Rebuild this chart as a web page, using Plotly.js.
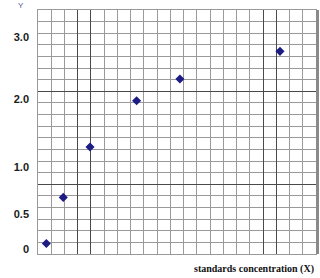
<!DOCTYPE html>
<html><head><meta charset="utf-8">
<script src="https://cdn.plot.ly/plotly-3.0.1.min.js"></script>
<style>html,body{margin:0;padding:0;background:#fff}#chart{width:320px;height:278px}</style>
</head><body><div id="chart"></div>
<script>
// Values, in grid-square units (graph paper 21 x 21)
const pointX = [0.63, 1.91, 3.93, 7.45, 10.72, 18.28];
const pointY = [0.91, 4.87, 9.21, 13.19, 15.06, 17.44];
const yTickPos = [0.45, 3.4, 7.5, 13.3, 18.7];
const yTickText = ['0', '0.5', '1.0', '2.0', '3.0'];
const darkX = [3, 4, 17, 18];
const darkY = [6, 14];
const gridMax = 21;

const trace = {
  x: pointX, y: pointY, xaxis: 'x', yaxis: 'y',
  type: 'scatter', mode: 'markers',
  marker: {symbol: 'diamond', size: 7, color: '#1c1c84'},
  hoverinfo: 'skip'
};
const labelAxisTrace = {x: [], y: [], xaxis: 'x', yaxis: 'y2', type: 'scatter', mode: 'markers', hoverinfo: 'skip'};
const borderAxisTrace = {x: [], y: [], xaxis: 'x', yaxis: 'y3', type: 'scatter', mode: 'markers', hoverinfo: 'skip'};
const minorGrid = {tickmode: 'linear', tick0: 0, dtick: 1, showgrid: true, gridcolor: '#9a9a9a', gridwidth: 1, ticks: ''};
const layout = {
  width: 320, height: 278,
  margin: {l: 38, r: 4, t: 10, b: 24},
  paper_bgcolor: '#fff', plot_bgcolor: '#fff',
  showlegend: false,
  xaxis: {range: [0, gridMax], tickmode: 'array', tickvals: darkX, showticklabels: false, ticks: '',
          showgrid: true, gridcolor: '#4a4a4a', gridwidth: 1, zeroline: false,
          showline: true, linecolor: '#9a9a9a', linewidth: 1, mirror: true, minor: minorGrid, fixedrange: true},
  yaxis: {range: [0, gridMax], tickmode: 'array', tickvals: darkY, showticklabels: false, ticks: '',
          showgrid: true, gridcolor: '#4a4a4a', gridwidth: 1, zeroline: false,
          showline: true, linecolor: '#9a9a9a', linewidth: 1, mirror: true, minor: minorGrid, fixedrange: true},
  yaxis2: {overlaying: 'y', range: [0, gridMax], tickmode: 'array', tickvals: yTickPos, ticktext: yTickText,
           showgrid: false, zeroline: false, ticks: '', side: 'left', ticklabelstandoff: 8,
           tickfont: {family: 'Liberation Sans, Arial, sans-serif', size: 11, color: '#1a1a1a', weight: 'bold'}, fixedrange: true},
  yaxis3: {overlaying: 'y', range: [0, gridMax], side: 'right', showline: true, linecolor: '#8a8a8a', linewidth: 3,
           showgrid: false, zeroline: false, showticklabels: false, ticks: ''},
  annotations: [
    {text: 'standards concentration (X)', xref: 'paper', yref: 'paper', x: 1, y: -0.03, xanchor: 'right', yanchor: 'top',
     showarrow: false, font: {family: 'Liberation Serif, Times New Roman, serif', size: 10, color: '#111', weight: 'bold'}},
    {text: 'Y', xref: 'paper', yref: 'paper', x: -0.06, y: 1.018, xanchor: 'center', yanchor: 'middle',
     showarrow: false, font: {family: 'Liberation Sans, Arial, sans-serif', size: 8, color: '#4a5a9a'}}
  ]
};
Plotly.newPlot('chart', [trace, labelAxisTrace, borderAxisTrace], layout, {staticPlot: true, displayModeBar: false});
</script></body></html>
